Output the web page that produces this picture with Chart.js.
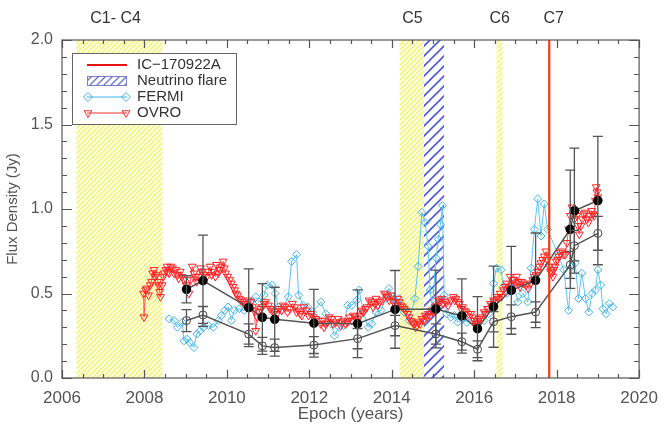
<!DOCTYPE html>
<html>
<head>
<meta charset="utf-8">
<script src="https://cdn.jsdelivr.net/npm/chart.js@4.4.1/dist/chart.umd.min.js"></script>
<style>
html, body { margin: 0; padding: 0; background: #fff; }
canvas { display: block; }
</style>
</head>
<body>
<canvas id="fluxChart" width="668" height="428"></canvas>
<script>
// OVRO 15 GHz light curve (epoch, Jy)
const ovroYears = [
    2007.98, 2007.99, 2008.03, 2008.05, 2008.10, 2008.14, 2008.17, 2008.20, 2008.23, 2008.26,
    2008.29, 2008.32, 2008.34, 2008.37, 2008.39, 2008.43, 2008.46, 2008.48, 2008.52, 2008.55,
    2008.58, 2008.60, 2008.64, 2008.68, 2008.72, 2008.76, 2008.80, 2008.83, 2008.87, 2008.91,
    2008.96, 2009.01, 2009.04, 2009.08, 2009.12, 2009.16, 2009.20, 2009.23, 2009.27, 2009.32,
    2009.36, 2009.39, 2009.44, 2009.51, 2009.55, 2009.59, 2009.63, 2009.68, 2009.72, 2009.75,
    2009.79, 2009.83, 2009.87, 2009.91, 2009.94, 2009.97, 2010.02, 2010.07, 2010.11, 2010.15,
    2010.19, 2010.22, 2010.26, 2010.30, 2010.34, 2010.38, 2010.42, 2010.46, 2010.52, 2010.58,
    2010.62, 2010.66, 2010.70, 2010.74, 2010.78, 2010.82, 2010.86, 2010.90, 2010.94, 2011.01,
    2011.05, 2011.09, 2011.15, 2011.21, 2011.27, 2011.33, 2011.37, 2011.41, 2011.47, 2011.53,
    2011.59, 2011.65, 2011.69, 2011.73, 2011.78, 2011.82, 2011.87, 2011.93, 2011.98, 2012.04,
    2012.10, 2012.16, 2012.22, 2012.28, 2012.32, 2012.36, 2012.40, 2012.44, 2012.48, 2012.53,
    2012.58, 2012.64, 2012.70, 2012.76, 2012.80, 2012.83, 2012.88, 2012.93, 2012.98, 2013.03,
    2013.07, 2013.11, 2013.17, 2013.23, 2013.27, 2013.31, 2013.36, 2013.40, 2013.45, 2013.51,
    2013.55, 2013.59, 2013.62, 2013.66, 2013.71, 2013.77, 2013.82, 2013.86, 2013.90, 2013.94,
    2013.99, 2014.04, 2014.09, 2014.14, 2014.18, 2014.22, 2014.26, 2014.30, 2014.34, 2014.38,
    2014.42, 2014.46, 2014.50, 2014.54, 2014.58, 2014.61, 2014.65, 2014.69, 2014.73, 2014.77,
    2014.81, 2014.85, 2014.89, 2014.93, 2014.97, 2015.01, 2015.05, 2015.09, 2015.13, 2015.17,
    2015.21, 2015.25, 2015.31, 2015.37, 2015.43, 2015.49, 2015.53, 2015.56, 2015.60, 2015.64,
    2015.68, 2015.72, 2015.76, 2015.80, 2015.86, 2015.92, 2015.96, 2016.00, 2016.03, 2016.06,
    2016.09, 2016.12, 2016.16, 2016.20, 2016.24, 2016.28, 2016.32, 2016.35, 2016.39, 2016.43,
    2016.47, 2016.51, 2016.55, 2016.59, 2016.63, 2016.66, 2016.71, 2016.75, 2016.79, 2016.83,
    2016.87, 2016.91, 2016.95, 2016.99, 2017.03, 2017.07, 2017.11, 2017.15, 2017.19, 2017.25,
    2017.31, 2017.37, 2017.42, 2017.46, 2017.50, 2017.54, 2017.58, 2017.62, 2017.66, 2017.70,
    2017.74, 2017.78, 2017.82, 2017.85, 2017.88, 2017.91, 2017.93, 2017.96, 2017.99, 2018.02,
    2018.05, 2018.09, 2018.13, 2018.17, 2018.21, 2018.25, 2018.29, 2018.33, 2018.37, 2018.40,
    2018.43, 2018.46, 2018.49, 2018.52, 2018.55, 2018.59, 2018.62, 2018.66, 2018.69, 2018.73,
    2018.77, 2018.81, 2018.85, 2018.88, 2018.91, 2018.94, 2018.96, 2018.98, 2019.00
];
const ovroFlux = [
    0.50, 0.36, 0.52, 0.53, 0.49, 0.55, 0.57, 0.62, 0.64, 0.60,
    0.61, 0.57, 0.55, 0.51, 0.48, 0.55, 0.60, 0.62, 0.64, 0.66,
    0.63, 0.62, 0.66, 0.65, 0.62, 0.64, 0.61, 0.59, 0.63, 0.60,
    0.58, 0.55, 0.53, 0.50, 0.58, 0.66, 0.62, 0.60, 0.57, 0.60,
    0.65, 0.63, 0.61, 0.60, 0.63, 0.66, 0.61, 0.63, 0.60, 0.67,
    0.62, 0.64, 0.66, 0.69, 0.65, 0.62, 0.60, 0.58, 0.56, 0.54,
    0.52, 0.50, 0.49, 0.47, 0.46, 0.45, 0.44, 0.43, 0.46, 0.45,
    0.42, 0.40, 0.28, 0.36, 0.39, 0.41, 0.42, 0.44, 0.45, 0.43,
    0.41, 0.40, 0.39, 0.38, 0.41, 0.40, 0.43, 0.42, 0.39, 0.41,
    0.44, 0.42, 0.39, 0.40, 0.38, 0.37, 0.42, 0.40, 0.37, 0.38,
    0.36, 0.35, 0.34, 0.32, 0.34, 0.30, 0.32, 0.33, 0.36, 0.35,
    0.32, 0.33, 0.35, 0.31, 0.33, 0.34, 0.32, 0.33, 0.36, 0.34,
    0.37, 0.36, 0.35, 0.37, 0.40, 0.39, 0.41, 0.42, 0.46, 0.45,
    0.42, 0.44, 0.47, 0.43, 0.45, 0.46, 0.50, 0.49, 0.48, 0.46,
    0.49, 0.45, 0.43, 0.47, 0.45, 0.43, 0.42, 0.41, 0.40, 0.38,
    0.36, 0.34, 0.33, 0.32, 0.30, 0.31, 0.33, 0.32, 0.35, 0.34,
    0.37, 0.36, 0.38, 0.37, 0.40, 0.39, 0.42, 0.43, 0.46, 0.45,
    0.47, 0.44, 0.45, 0.43, 0.46, 0.48, 0.46, 0.47, 0.45, 0.44,
    0.41, 0.42, 0.40, 0.39, 0.38, 0.38, 0.36, 0.34, 0.31, 0.32,
    0.33, 0.35, 0.34, 0.36, 0.39, 0.38, 0.41, 0.41, 0.44, 0.43,
    0.46, 0.45, 0.48, 0.47, 0.50, 0.48, 0.52, 0.54, 0.56, 0.53,
    0.60, 0.55, 0.58, 0.56, 0.60, 0.57, 0.54, 0.57, 0.56, 0.55,
    0.53, 0.56, 0.58, 0.60, 0.61, 0.63, 0.66, 0.68, 0.70, 0.72,
    0.75, 0.70, 0.66, 0.63, 0.62, 0.60, 0.64, 0.66, 0.69, 0.70,
    0.72, 0.74, 0.75, 0.73, 0.73, 0.80, 0.88, 0.96, 1.01, 0.97,
    0.94, 0.98, 0.96, 0.90, 0.85, 0.90, 0.94, 0.97, 0.98, 0.94,
    0.92, 0.96, 0.99, 0.97, 0.96, 1.05, 1.13, 1.10, 1.07
];

// Fermi-LAT gamma-ray light curve, in the same units as plotted
const fermiYears = [
    2008.60, 2008.72, 2008.80, 2008.92, 2008.96, 2009.04, 2009.10, 2009.20, 2009.27, 2009.35,
    2009.43, 2009.55, 2009.67, 2009.79, 2009.87, 2009.95, 2010.03, 2010.11, 2010.18, 2010.30,
    2010.42, 2010.58, 2010.70, 2010.78, 2010.90, 2010.98, 2011.10, 2011.17, 2011.25, 2011.33,
    2011.49, 2011.57, 2011.69, 2011.74, 2011.85, 2011.96, 2012.08, 2012.28, 2012.40, 2012.53,
    2012.61, 2012.72, 2012.83, 2012.93, 2013.03, 2013.15, 2013.21, 2013.31, 2013.43, 2013.51,
    2013.62, 2013.74, 2013.86, 2013.93, 2014.02, 2014.10, 2014.18, 2014.30, 2014.42, 2014.56,
    2014.64, 2014.73, 2014.81, 2014.88, 2014.93, 2014.99, 2015.07, 2015.13, 2015.18, 2015.23,
    2015.27, 2015.33, 2015.43, 2015.52, 2015.60, 2015.73, 2015.82, 2015.95, 2016.08, 2016.24,
    2016.35, 2016.47, 2016.54, 2016.65, 2016.71, 2016.79, 2016.87, 2016.96, 2017.06, 2017.18,
    2017.30, 2017.38, 2017.46, 2017.54, 2017.62, 2017.70, 2017.78, 2018.05, 2018.17, 2018.29,
    2018.37, 2018.45, 2018.53, 2018.61, 2018.70, 2018.78, 2018.86, 2018.94, 2019.00, 2019.07,
    2019.12, 2019.20, 2019.28, 2019.36
];
const fermiFlux = [
    0.35, 0.34, 0.30, 0.33, 0.22, 0.23, 0.21, 0.18, 0.26, 0.28,
    0.30, 0.31, 0.30, 0.34, 0.37, 0.40, 0.42, 0.34, 0.40, 0.41,
    0.40, 0.45, 0.48, 0.45, 0.49, 0.55, 0.55, 0.50, 0.42, 0.40,
    0.48, 0.69, 0.73, 0.49, 0.43, 0.42, 0.39, 0.45, 0.38, 0.32,
    0.25, 0.30, 0.31, 0.43, 0.43, 0.46, 0.52, 0.39, 0.30, 0.32,
    0.39, 0.40, 0.47, 0.53, 0.48, 0.45, 0.47, 0.39, 0.34, 0.47,
    0.66, 0.98, 0.92, 0.78, 0.52, 0.41, 0.71, 0.82, 0.91, 1.02,
    0.49, 0.38, 0.36, 0.37, 0.33, 0.35, 0.33, 0.34, 0.30, 0.34,
    0.38, 0.56, 0.65, 0.64, 0.54, 0.50, 0.53, 0.56, 0.45, 0.50,
    0.45, 0.65, 0.88, 1.06, 0.84, 1.03, 0.88, 0.72, 0.64, 0.40,
    0.66, 0.68, 0.47, 0.62, 0.47, 0.39, 0.50, 0.52, 0.64, 0.55,
    0.41, 0.38, 0.44, 0.42
];

// VLBI components: core (filled) and knot (open), with errors
const compYears = [
    2009.02, 2009.42, 2010.53, 2010.86, 2011.16, 2012.11, 2013.17, 2014.08, 2015.07,
    2015.70, 2016.08, 2016.47, 2016.90, 2017.49, 2018.33, 2018.43, 2019.00
];
const coreFlux = [0.525, 0.576, 0.416, 0.359, 0.347, 0.324, 0.321, 0.406, 0.408,
    0.367, 0.292, 0.422, 0.519, 0.578, 0.880, 0.990, 1.050];
const coreErr = [0.08, 0.27, 0.23, 0.20, 0.19, 0.20, 0.20, 0.23, 0.23,
    0.22, 0.19, 0.24, 0.26, 0.28, 0.35, 0.37, 0.38];
const knotFlux = [0.340, 0.373, 0.260, 0.190, 0.180, 0.195, 0.233, 0.310, 0.260,
    0.215, 0.170, 0.333, 0.363, 0.390, 0.669, 0.783, 0.856];
const knotErr = [0.065, 0.05, 0.06, 0.05, 0.05, 0.05, 0.06, 0.06, 0.06,
    0.05, 0.05, 0.06, 0.07, 0.06, 0.08, 0.09, 0.10];

// shaded epochs and events
const periodStarts = [2006.35, 2014.19, 2016.54];
const periodEnds = [2008.44, 2014.78, 2016.69];
const periodLabels = ['C1- C4', 'C5', 'C6', 'C7'];
const periodLabelYears = [2007.3, 2014.5, 2016.62, 2017.93];
const flareStart = 2014.78;
const flareEnd = 2015.27;
const icEventYear = 2017.82;

const FONT = '"Liberation Sans", Arial, sans-serif';
const toPoints = (xs, ys) => xs.map((x, i) => ({ x, y: ys[i] }));

function hatchCanvas(bg, fg, size, width) {
    const c = document.createElement('canvas');
    c.width = size;
    c.height = size;
    const g = c.getContext('2d');
    if (bg) {
        g.fillStyle = bg;
        g.fillRect(0, 0, size, size);
    }
    g.strokeStyle = fg;
    g.lineWidth = width;
    g.beginPath();
    g.moveTo(-1, size + 1); g.lineTo(size + 1, -1);
    g.moveTo(-1, 1); g.lineTo(1, -1);
    g.moveTo(size - 1, size + 1); g.lineTo(size + 1, size - 1);
    g.stroke();
    return c;
}

function drawErrorBars(ctx, x, y, flux, err) {
    compYears.forEach((yr, i) => {
        const px = x.getPixelForValue(yr);
        const top = y.getPixelForValue(flux[i] + err[i]);
        const bot = y.getPixelForValue(flux[i] - err[i]);
        ctx.beginPath();
        ctx.moveTo(px, top); ctx.lineTo(px, bot);
        ctx.moveTo(px - 5, top); ctx.lineTo(px + 5, top);
        ctx.moveTo(px - 5, bot); ctx.lineTo(px + 5, bot);
        ctx.stroke();
    });
}

const decorPlugin = {
    id: 'decor',
    beforeDatasetsDraw(chart) {
        const { ctx, chartArea: a, scales: { x } } = chart;
        ctx.save();
        ctx.beginPath();
        ctx.rect(a.left, a.top, a.width, a.height);
        ctx.clip();
        ctx.fillStyle = ctx.createPattern(hatchCanvas('#fefee2', '#f2f270', 5, 1.3), 'repeat');
        periodStarts.forEach((s, i) => {
            const x0 = x.getPixelForValue(s);
            const x1 = x.getPixelForValue(periodEnds[i]);
            ctx.fillRect(x0, a.top, x1 - x0, a.height);
        });
        const f0 = x.getPixelForValue(flareStart);
        const f1 = x.getPixelForValue(flareEnd);
        ctx.fillStyle = '#fff';
        ctx.fillRect(f0, a.top, f1 - f0, a.height);
        ctx.fillStyle = ctx.createPattern(hatchCanvas(null, '#4b5ad6', 10, 1.6), 'repeat');
        ctx.fillRect(f0, a.top, f1 - f0, a.height);
        ctx.restore();
    },
    afterDatasetsDraw(chart) {
        const { ctx, chartArea: a, scales: { x, y } } = chart;
        ctx.save();
        // IC-170922A
        const ic = x.getPixelForValue(icEventYear);
        ctx.strokeStyle = '#f03c10';
        ctx.lineWidth = 2.2;
        ctx.beginPath();
        ctx.moveTo(ic, a.top); ctx.lineTo(ic, a.bottom);
        ctx.stroke();
        // error bars
        ctx.strokeStyle = '#555';
        ctx.lineWidth = 1.3;
        drawErrorBars(ctx, x, y, coreFlux, coreErr);
        drawErrorBars(ctx, x, y, knotFlux, knotErr);
        ctx.restore();
    },
    afterDraw(chart) {
        const { ctx, chartArea: a, scales: { x, y } } = chart;
        ctx.save();
        // frame with inward ticks on all sides
        ctx.strokeStyle = '#555';
        ctx.lineWidth = 1.2;
        ctx.strokeRect(a.left, a.top, a.width, a.height);
        ctx.beginPath();
        for (let v = 2006; v <= 2020.001; v += 0.5) {
            const px = Math.round(x.getPixelForValue(v)) + 0.5;
            const len = Math.abs(v % 2) < 0.01 ? 8 : 4;
            ctx.moveTo(px, a.bottom); ctx.lineTo(px, a.bottom - len);
            ctx.moveTo(px, a.top); ctx.lineTo(px, a.top + len);
        }
        for (let i = 0; i <= 20; i++) {
            const py = Math.round(y.getPixelForValue(i / 10)) + 0.5;
            const len = i % 5 === 0 ? 10 : 5;
            ctx.moveTo(a.left, py); ctx.lineTo(a.left + len, py);
            ctx.moveTo(a.right, py); ctx.lineTo(a.right - len, py);
        }
        ctx.stroke();

        // epoch labels above the plot
        ctx.fillStyle = '#333';
        ctx.font = '16px ' + FONT;
        ctx.textAlign = 'center';
        ctx.textBaseline = 'middle';
        periodLabels.forEach((t, i) => {
            ctx.fillText(t, x.getPixelForValue(periodLabelYears[i]), 19);
        });

        // legend
        const lx = 72, ly = 53;
        ctx.fillStyle = '#fff';
        ctx.fillRect(lx, ly, 165, 72);
        ctx.strokeStyle = '#666';
        ctx.lineWidth = 1;
        ctx.strokeRect(lx + 0.5, ly + 0.5, 164, 71);
        const s0 = lx + 15, s1 = lx + 55, tx = lx + 65;
        const rows = [ly + 12, ly + 28, ly + 44, ly + 60];

        ctx.strokeStyle = '#e81414';
        ctx.lineWidth = 2;
        ctx.beginPath();
        ctx.moveTo(s0, rows[0]); ctx.lineTo(s1, rows[0]);
        ctx.stroke();

        ctx.fillStyle = ctx.createPattern(hatchCanvas('#fff', '#6a72d8', 7, 1.3), 'repeat');
        ctx.fillRect(s0, rows[1] - 5, s1 - s0, 10);
        ctx.strokeStyle = '#7a80cc';
        ctx.lineWidth = 1;
        ctx.strokeRect(s0 + 0.5, rows[1] - 4.5, s1 - s0 - 1, 9);

        const legendMarkers = [
            { row: rows[2], color: '#3fb2ea', style: 'rectRot', rotation: 0 },
            { row: rows[3], color: '#f03232', style: 'triangle', rotation: 180 }
        ];
        legendMarkers.forEach(m => {
            ctx.strokeStyle = m.color;
            ctx.lineWidth = 1;
            ctx.beginPath();
            ctx.moveTo(s0, m.row); ctx.lineTo(s1, m.row);
            ctx.stroke();
            ctx.fillStyle = 'rgba(255,255,255,0)';
            [s0 + 1, s1 - 1].forEach(px => {
                Chart.helpers.drawPoint(ctx, {
                    pointStyle: m.style, rotation: m.rotation, radius: 4.5, borderWidth: 1
                }, px, m.row);
            });
        });

        ctx.fillStyle = '#333';
        ctx.font = '15px ' + FONT;
        ctx.textAlign = 'left';
        ctx.fillText('IC\u2212170922A', tx, rows[0]);
        ctx.fillText('Neutrino flare', tx, rows[1]);
        ctx.fillText('FERMI', tx, rows[2]);
        ctx.fillText('OVRO', tx, rows[3]);
        ctx.restore();
    }
};

new Chart(document.getElementById('fluxChart'), {
    type: 'line',
    data: {
        datasets: [
            {
                label: 'Core',
                data: toPoints(compYears, coreFlux),
                borderColor: '#555',
                borderWidth: 1.5,
                pointStyle: 'circle',
                pointRadius: 4,
                pointBackgroundColor: '#000',
                pointBorderColor: '#000',
                order: 1
            },
            {
                label: 'Knot',
                data: toPoints(compYears, knotFlux),
                borderColor: '#555',
                borderWidth: 1.5,
                pointStyle: 'circle',
                pointRadius: 4,
                pointBackgroundColor: 'rgba(255,255,255,0)',
                pointBorderColor: '#444',
                pointBorderWidth: 1,
                order: 2
            },
            {
                label: 'OVRO',
                data: toPoints(ovroYears, ovroFlux),
                borderColor: '#f55',
                borderWidth: 1,
                pointStyle: 'triangle',
                rotation: 180,
                pointRadius: 4.5,
                pointBackgroundColor: 'rgba(255,255,255,0)',
                pointBorderColor: '#f22',
                pointBorderWidth: 1,
                order: 3
            },
            {
                label: 'FERMI',
                data: toPoints(fermiYears, fermiFlux),
                borderColor: '#5cc6f0',
                borderWidth: 1,
                pointStyle: 'rectRot',
                pointRadius: 4,
                pointBackgroundColor: 'rgba(255,255,255,0)',
                pointBorderColor: '#3fb2ea',
                pointBorderWidth: 1,
                order: 4
            }
        ]
    },
    options: {
        responsive: false,
        animation: false,
        events: [],
        layout: {
            autoPadding: false,
            padding: { top: 40, right: 16, left: 0, bottom: 0 }
        },
        elements: { line: { tension: 0 } },
        plugins: {
            legend: { display: false },
            tooltip: { enabled: false }
        },
        scales: {
            x: {
                type: 'linear',
                min: 2006,
                max: 2020,
                afterFit: scale => { scale.height = 50; },
                grid: { display: false, drawTicks: false },
                border: { display: false },
                ticks: {
                    stepSize: 2,
                    padding: 10,
                    maxRotation: 0,
                    autoSkip: false,
                    color: '#555',
                    font: { family: FONT, size: 17 },
                    callback: v => String(v)
                },
                title: {
                    display: true,
                    text: 'Epoch (years)',
                    color: '#555',
                    font: { family: FONT, size: 17 },
                    padding: { top: 0, bottom: 3 }
                }
            },
            y: {
                min: 0,
                max: 2,
                afterFit: scale => { scale.width = 62; },
                grid: { display: false, drawTicks: false },
                border: { display: false },
                ticks: {
                    stepSize: 0.5,
                    padding: 9,
                    color: '#555',
                    font: { family: FONT, size: 16 },
                    callback: v => v.toFixed(1)
                },
                title: {
                    display: true,
                    text: 'Flux Density (Jy)',
                    color: '#555',
                    font: { family: FONT, size: 15 },
                    padding: { top: 4, bottom: 0 }
                }
            }
        }
    },
    plugins: [decorPlugin]
});
</script>
</body>
</html>
